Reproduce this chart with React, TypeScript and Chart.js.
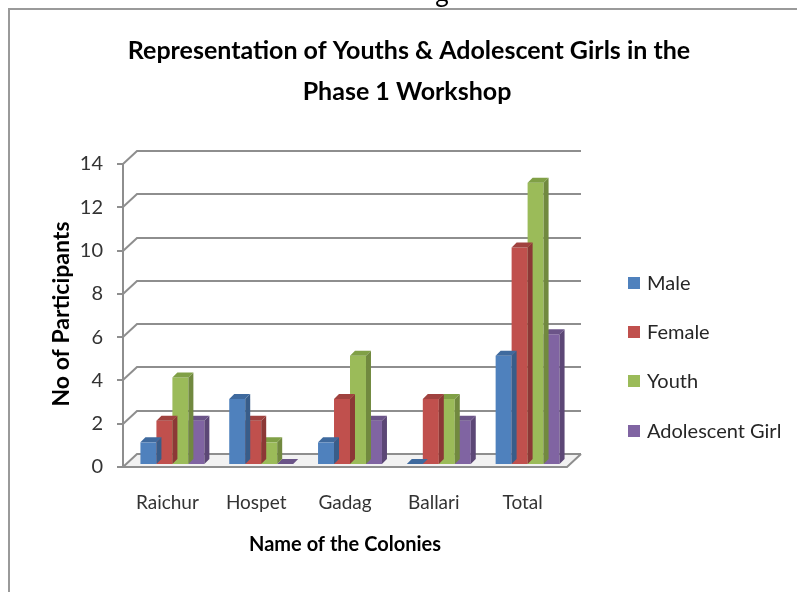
import React, { useEffect, useRef } from "react";
import { Chart, registerables } from "chart.js";

Chart.register(...registerables);

const categories = ["Raichur", "Hospet", "Gadag", "Ballari", "Total"];
const seriesNames = ["Male", "Female", "Youth", "Adolescent Girl"];
const maleValues = [1, 3, 1, 0, 5];
const femaleValues = [2, 2, 3, 3, 10];
const youthValues = [4, 1, 5, 3, 13];
const adolescentGirlValues = [2, 0, 2, 2, 6];
const yMin = 0;
const yMax = 14;
const yStep = 2;
const titleLines = ["Representation of Youths & Adolescent Girls in the", "Phase 1 Workshop"];
const xAxisTitle = "Name of the Colonies";
const yAxisTitle = "No of Participants";

const frontColors = ["#4F81BD", "#C0504D", "#9BBB59", "#8064A2"];
const sideColors = ["#385D8A", "#8C3836", "#71893F", "#5C4776"];
const topColors = ["#3F6A9E", "#A0423F", "#80A046", "#6B5488"];

const FONT = "Lato, 'Open Sans', sans-serif";
const WALL_DX = 14;
const WALL_DY = -13;
const BAR_DX = 5;
const BAR_DY = -5;
const SHIFT_X = 5;
const SHIFT_Y = -3;
const GRID = "#8E8E8E";

const decorPlugin = {
  id: "decor3d",
  beforeDraw(chart: any) {
    const ctx = chart.ctx as CanvasRenderingContext2D;
    ctx.save();
    ctx.fillStyle = "#ffffff";
    ctx.fillRect(0, 0, chart.width, chart.height);
    // frame
    ctx.strokeStyle = "#9A9A9A";
    ctx.lineWidth = 2;
    ctx.beginPath();
    ctx.moveTo(9, chart.height);
    ctx.lineTo(9, 9);
    ctx.lineTo(chart.width, 9);
    ctx.stroke();
    // clipped caption glyph above frame
    ctx.fillStyle = "#000";
    ctx.font = `26px ${FONT}`;
    ctx.textAlign = "center";
    ctx.textBaseline = "alphabetic";
    ctx.fillText("g", 442, 2);
    // title
    ctx.fillStyle = "#000";
    ctx.font = `bold 25px ${FONT}`;
    ctx.textBaseline = "middle";
    ctx.fillText(titleLines[0], 409, 51);
    ctx.fillText(titleLines[1], 407, 92);
    ctx.restore();
  },
  beforeDatasetsDraw(chart: any) {
    const ctx = chart.ctx as CanvasRenderingContext2D;
    const y = chart.scales.y;
    const { left, right, top, bottom } = chart.chartArea;
    ctx.save();
    ctx.strokeStyle = GRID;
    ctx.lineWidth = 2;
    ctx.lineCap = "butt";
    // floor
    ctx.fillStyle = "#F2F2F2";
    ctx.beginPath();
    ctx.moveTo(left, bottom);
    ctx.lineTo(left + WALL_DX, bottom + WALL_DY);
    ctx.lineTo(right + WALL_DX, bottom + WALL_DY);
    ctx.lineTo(right, bottom);
    ctx.closePath();
    ctx.fill();
    y.ticks.forEach((t: any) => {
      const py = Math.round(y.getPixelForValue(t.value));
      ctx.beginPath();
      ctx.moveTo(left - 6, py);
      ctx.lineTo(left, py);
      ctx.lineTo(left + WALL_DX, py + WALL_DY);
      ctx.lineTo(right + WALL_DX, py + WALL_DY);
      ctx.stroke();
    });
    // floor front edge and right edge
    ctx.beginPath();
    ctx.moveTo(left - 6, bottom);
    ctx.lineTo(right, bottom);
    ctx.lineTo(right + WALL_DX, bottom + WALL_DY);
    ctx.stroke();
    // axis line
    ctx.beginPath();
    ctx.moveTo(left, top);
    ctx.lineTo(left, bottom);
    ctx.stroke();
    ctx.restore();
  },
  beforeDatasetDraw(chart: any) {
    const ctx = chart.ctx as CanvasRenderingContext2D;
    ctx.save();
    ctx.translate(SHIFT_X, SHIFT_Y);
  },
  afterDatasetDraw(chart: any, args: any) {
    const ctx = chart.ctx as CanvasRenderingContext2D;
    const i = args.index;
    const meta = chart.getDatasetMeta(i);
    meta.data.forEach((el: any) => {
      const { x, y, base, width } = el.getProps(["x", "y", "base", "width"], true);
      const l = x - width / 2;
      const r = x + width / 2;
      // side face
      ctx.fillStyle = sideColors[i];
      ctx.beginPath();
      ctx.moveTo(r, y);
      ctx.lineTo(r + BAR_DX, y + BAR_DY);
      ctx.lineTo(r + BAR_DX, base + BAR_DY);
      ctx.lineTo(r, base);
      ctx.closePath();
      ctx.fill();
      // top face
      ctx.fillStyle = topColors[i];
      ctx.beginPath();
      ctx.moveTo(l, y);
      ctx.lineTo(l + BAR_DX, y + BAR_DY);
      ctx.lineTo(r + BAR_DX, y + BAR_DY);
      ctx.lineTo(r, y);
      ctx.closePath();
      ctx.fill();
    });
    ctx.restore();
  },
  afterDraw(chart: any) {
    const ctx = chart.ctx as CanvasRenderingContext2D;
    const { left, right } = chart.chartArea;
    ctx.save();
    // axis titles
    ctx.fillStyle = "#000";
    ctx.font = `bold 20px ${FONT}`;
    ctx.textAlign = "center";
    ctx.textBaseline = "middle";
    ctx.fillText(xAxisTitle, (left + right) / 2, 545);
    ctx.save();
    ctx.translate(62, 314);
    ctx.rotate(-Math.PI / 2);
    ctx.font = `bold 23px ${FONT}`;
    ctx.fillText(yAxisTitle, 0, 0);
    ctx.restore();
    // legend
    const legendY = [283, 332, 381, 431];
    ctx.font = `20px ${FONT}`;
    ctx.textAlign = "left";
    chart.data.datasets.forEach((ds: any, i: number) => {
      const cy = legendY[i];
      ctx.fillStyle = frontColors[i];
      ctx.fillRect(628, cy - 6, 12, 12);
      ctx.fillStyle = "#262626";
      ctx.fillText(ds.label, 647, cy + 1);
    });
    ctx.restore();
  },
};

export default function App() {
  const canvasRef = useRef<HTMLCanvasElement | null>(null);

  useEffect(() => {
    document.body.style.margin = "0";
    const canvas = canvasRef.current;
    if (!canvas) return;
    const seriesValues = [maleValues, femaleValues, youthValues, adolescentGirlValues];
    const chart = new Chart(canvas, {
      type: "bar",
      data: {
        labels: categories,
        datasets: seriesNames.map((name, i) => ({
          label: name,
          data: seriesValues[i],
          backgroundColor: frontColors[i],
          borderWidth: 0,
          categoryPercentage: 0.72,
          barPercentage: 1,
          clip: false as any,
        })),
      },
      options: {
        responsive: false,
        animation: false,
        events: [],
        layout: { padding: { left: 0, top: 164, right: 230, bottom: 0 } },
        plugins: {
          legend: { display: false },
          title: { display: false },
          tooltip: { enabled: false },
        },
        scales: {
          x: {
            grid: { display: false, drawTicks: false },
            border: { display: false },
            ticks: {
              padding: 24,
              color: "#333333",
              font: { family: FONT, size: 19 },
              maxRotation: 0,
            },
            afterFit: (scale: any) => {
              scale.height = 125;
            },
          },
          y: {
            min: yMin,
            max: yMax,
            grid: { display: false, drawTicks: false },
            border: { display: false },
            ticks: {
              stepSize: yStep,
              padding: 20,
              color: "#333333",
              font: { family: FONT, size: 20 },
            },
            afterFit: (scale: any) => {
              scale.width = 123;
            },
          },
        },
      },
      plugins: [decorPlugin],
    });
    return () => chart.destroy();
  }, []);

  return (
    <div style={{ position: "absolute", left: 0, top: 0, width: 797, height: 592 }}>
      <canvas ref={canvasRef} width={797} height={592} style={{ width: 797, height: 592, display: "block" }} />
    </div>
  );
}
